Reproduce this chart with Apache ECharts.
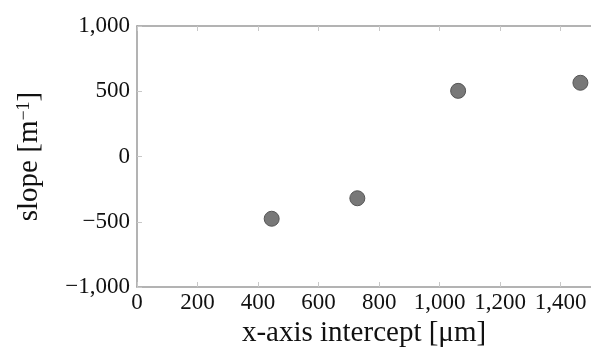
<!DOCTYPE html>
<html>
<head>
<meta charset="utf-8">
<script src="https://cdn.jsdelivr.net/npm/echarts@6/dist/echarts.min.js"></script>
<style>
  html, body { margin: 0; padding: 0; background: #fff; }
  #chart { width: 591px; height: 356px; }
</style>
</head>
<body>
<div id="chart"></div>
<script>
// data
const intercepts = [445, 728, 1061, 1465];
const slopes = [-477, -320, 503, 565];

const xMin = 0, xMax = 1500, xStep = 200;
const yMin = -1000, yMax = 1000, yStep = 500;

const serif = 'Liberation Serif';
const axisGrey = '#9a9a9a';

const fmt = (v) => {
  const s = Math.abs(v).toLocaleString('en-US');
  return v < 0 ? '\u2212' + s : s;
};

const chart = echarts.init(document.getElementById('chart'));

chart.setOption({
  animation: false,
  textStyle: { fontFamily: serif },
  grid: { left: 137, top: 26, bottom: 69, right: -1 },
  xAxis: [
    {
      type: 'value',
      min: xMin, max: xMax, interval: xStep,
      name: 'x-axis intercept [\u03bcm]',
      nameLocation: 'middle',
      nameGap: 20,
      nameTextStyle: { fontFamily: serif, fontSize: 29, color: '#111' },
      axisLine: { onZero: false, lineStyle: { color: axisGrey, width: 1.5 } },
      axisTick: { inside: true, length: 5, lineStyle: { color: '#c8c8c8' } },
      axisLabel: {
        showMaxLabel: false,
        fontFamily: serif, fontSize: 23, color: '#111', margin: 4,
        formatter: fmt
      },
      splitLine: { show: false }
    },
    {
      type: 'value',
      position: 'top',
      min: xMin, max: xMax, interval: xStep,
      axisLine: { onZero: false, lineStyle: { color: axisGrey, width: 1.5 } },
      axisTick: { inside: true, length: 5, lineStyle: { color: '#c8c8c8' } },
      axisLabel: { show: false },
      splitLine: { show: false }
    }
  ],
  yAxis: {
    type: 'value',
    min: yMin, max: yMax, interval: yStep,
    name: '{a|slope [m}{s|\u22121}{a|]}',
    nameLocation: 'middle',
    nameGap: 93,
    nameTextStyle: {
      fontFamily: serif, color: '#111',
      rich: {
        a: { fontFamily: serif, fontSize: 29, color: '#111' },
        s: { fontFamily: serif, fontSize: 18, color: '#111', verticalAlign: 'top' }
      }
    },
    axisLine: { show: true, onZero: false, lineStyle: { color: axisGrey, width: 1.5 } },
    axisTick: { inside: true, length: 5, lineStyle: { color: '#c8c8c8' } },
    axisLabel: {
      fontFamily: serif, fontSize: 23, color: '#111', margin: 7,
      formatter: fmt
    },
    splitLine: { show: false }
  },
  series: [
    {
      type: 'scatter',
      data: intercepts.map((x, i) => [x, slopes[i]]),
      symbol: 'circle',
      symbolSize: 15,
      itemStyle: { color: '#787878', borderColor: '#555', borderWidth: 1, opacity: 1 }
    }
  ]
});
</script>
</body>
</html>
